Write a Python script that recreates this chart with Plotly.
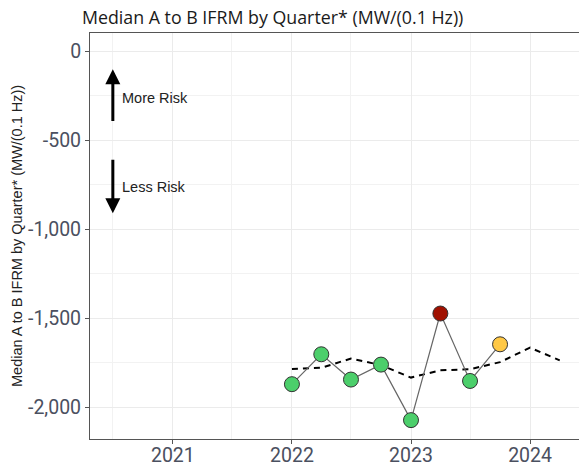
import plotly.graph_objects as go

# Data
quarters = ["2022-01-01", "2022-04-01", "2022-07-01", "2022-10-01",
            "2023-01-01", "2023-04-01", "2023-07-01", "2023-10-01"]
ifrm_values = [-1870, -1702, -1844, -1760, -2072, -1473, -1852, -1646]
point_colors = ["#4CCF6B", "#4CCF6B", "#4CCF6B", "#4CCF6B",
                "#4CCF6B", "#A01000", "#4CCF6B", "#FFC845"]

trend_quarters = ["2022-01-01", "2022-04-01", "2022-07-01", "2022-10-01",
                  "2023-01-01", "2023-04-01", "2023-07-01", "2023-10-01",
                  "2024-01-01", "2024-04-01"]
trend_values = [-1785, -1778, -1726, -1763, -1833, -1792, -1786, -1746, -1665, -1736]

y_ticks = [0, -500, -1000, -1500, -2000]
y_tick_labels = ["0", "-500", "-1,000", "-1,500", "-2,000"]
x_ticks = ["2021-01-01", "2022-01-01", "2023-01-01", "2024-01-01"]
x_tick_labels = ["2021", "2022", "2023", "2024"]

title_text = "Median A to B IFRM by Quarter* (MW/(0.1 Hz))"

fig = go.Figure()

fig.add_trace(go.Scatter(
    x=trend_quarters, y=trend_values, mode="lines",
    line=dict(color="black", width=2, dash="6px,5px"),
    hoverinfo="skip", showlegend=False))

fig.add_trace(go.Scatter(
    x=quarters, y=ifrm_values, mode="lines",
    line=dict(color="#666666", width=1.2),
    showlegend=False))

fig.add_trace(go.Scatter(
    x=quarters, y=ifrm_values, mode="markers",
    marker=dict(size=15, color=point_colors,
                line=dict(color="#333333", width=1)),
    showlegend=False))

tick_font = dict(family="Roboto", size=19.5, color="#4b5060")
label_font = dict(family="Liberation Sans", size=14.5, color="#222222")

fig.update_layout(
    width=579, height=466,
    margin=dict(l=90, r=0, t=33, b=27),
    paper_bgcolor="white", plot_bgcolor="white",
    title=dict(text=title_text, x=82 / 579, xanchor="left", xref="container",
               y=1 - 18 / 466, yanchor="middle", yref="container",
               font=dict(family="Open Sans", size=17.8, color="#1a1a1a")),
    xaxis=dict(
        type="date", range=["2020-04-22", "2024-05-30"], automargin=False,
        tickvals=x_ticks, ticktext=x_tick_labels, tickfont=tick_font,
        ticklabelstandoff=-5,
        showgrid=True, gridcolor="#EBEBEB", gridwidth=1,
        minor=dict(tick0="2020-07-01", dtick="M12", showgrid=True,
                   gridcolor="#F2F2F2", gridwidth=1, ticks=""),
        showline=True, linecolor="#555555", linewidth=1, mirror=True,
        ticks="outside", ticklen=4, tickcolor="#555555",
        zeroline=False),
    yaxis=dict(
        range=[-2178, 103], automargin=False,
        tickvals=y_ticks, ticktext=y_tick_labels, tickfont=tick_font,
        showgrid=True, gridcolor="#EBEBEB", gridwidth=1,
        minor=dict(tickvals=[-250, -750, -1250, -1750], showgrid=True,
                   gridcolor="#F2F2F2", gridwidth=1, ticks=""),
        showline=True, linecolor="#555555", linewidth=1,
        ticks="outside", ticklen=4, tickcolor="#555555",
        zeroline=False),
    annotations=[
        dict(text=title_text, xref="paper", yref="paper",
             x=(17 - 90) / 489, y=0.5, textangle=-90, showarrow=False,
             font=label_font, xanchor="center", yanchor="middle"),
        dict(x="2020-07-01", y=-100, ax="2020-07-01", ay=-400,
             xref="x", yref="y", axref="x", ayref="y", text="",
             showarrow=True, arrowhead=2, arrowsize=1, arrowwidth=3,
             arrowcolor="black"),
        dict(x="2020-07-01", y=-910, ax="2020-07-01", ay=-600,
             xref="x", yref="y", axref="x", ayref="y", text="",
             showarrow=True, arrowhead=2, arrowsize=1, arrowwidth=3,
             arrowcolor="black"),
        dict(x="2020-07-24", y=-260, xref="x", yref="y", text="More Risk",
             showarrow=False, xanchor="left", yanchor="middle", font=label_font),
        dict(x="2020-07-24", y=-760, xref="x", yref="y", text="Less Risk",
             showarrow=False, xanchor="left", yanchor="middle", font=label_font),
    ],
)

fig.write_html("out.html", config={"displayModeBar": False},
               post_script="document.body.style.margin='0';")
